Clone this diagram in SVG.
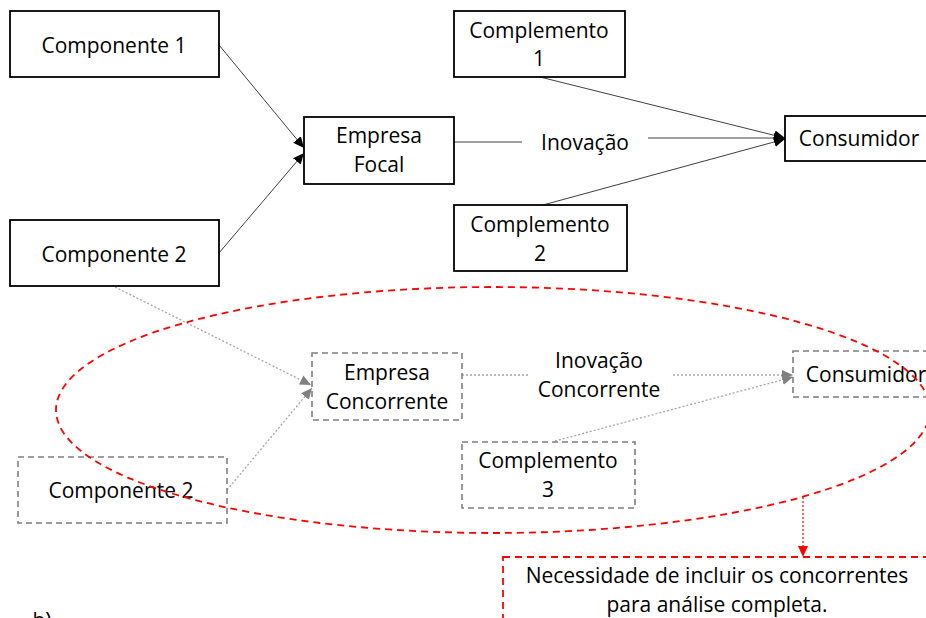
<svg xmlns="http://www.w3.org/2000/svg" width="926" height="618" viewBox="0 0 926 618">
<style>
text{font-family:"Open Sans","Noto Sans","Liberation Sans",sans-serif;font-size:21px;fill:#000;text-anchor:middle}
.box{fill:#fff;stroke:#000;stroke-width:1.8}
.dbox{fill:none;stroke:#7f7f7f;stroke-width:1.6;stroke-dasharray:6 4}
.c{stroke:#404040;stroke-width:1;fill:none}
.g{stroke:#a6a6a6;stroke-width:1.3;stroke-dasharray:2 2;fill:none}
.red{fill:none;stroke:#ff0000;stroke-width:1.8;stroke-dasharray:7 5}
.rdot{fill:none;stroke:#ff0000;stroke-width:1.2;stroke-dasharray:2 2}
</style>
<defs>
<marker id="ab" markerUnits="userSpaceOnUse" markerWidth="12" markerHeight="12" viewBox="0 0 12 12" refX="11" refY="6" orient="auto"><path d="M0,1 L11,6 L0,11 Z" fill="#000"/></marker>
<marker id="ag" markerUnits="userSpaceOnUse" markerWidth="12" markerHeight="12" viewBox="0 0 12 12" refX="11" refY="6" orient="auto"><path d="M0,1 L11,6 L0,11 Z" fill="#808080"/></marker>
<marker id="ar" markerUnits="userSpaceOnUse" markerWidth="12" markerHeight="12" viewBox="0 0 12 12" refX="11" refY="6" orient="auto"><path d="M0,1 L11,6 L0,11 Z" fill="#ff0000"/></marker>
</defs>
<rect width="926" height="618" fill="#fff"/>
<g id="connectors">
<line class="c" x1="219" y1="45" x2="304" y2="148" marker-end="url(#ab)"/>
<line class="c" x1="219" y1="253" x2="304" y2="153" marker-end="url(#ab)"/>
<line class="c" x1="454" y1="142" x2="522" y2="142"/>
<line class="c" x1="648" y1="138" x2="785" y2="138" marker-end="url(#ab)"/>
<line class="c" x1="540" y1="77" x2="785" y2="138" marker-end="url(#ab)"/>
<line class="c" x1="543" y1="205" x2="785" y2="139" marker-end="url(#ab)"/>
<line class="g" x1="115" y1="287" x2="311" y2="385" marker-end="url(#ag)"/>
<line class="g" x1="227" y1="490" x2="312" y2="388" marker-end="url(#ag)"/>
<line class="g" x1="462" y1="375" x2="529" y2="375"/>
<line class="g" x1="673" y1="375" x2="793" y2="375" marker-end="url(#ag)"/>
<line class="g" x1="555" y1="441" x2="793" y2="377" marker-end="url(#ag)"/>
<line class="rdot" x1="803" y1="497" x2="803" y2="557" marker-end="url(#ar)"/>
</g>
<g id="componente1"><rect class="box" x="10" y="11" width="209" height="66"/><text x="114" y="53">Componente  1</text></g>
<g id="componente2"><rect class="box" x="10" y="220" width="209" height="66"/><text x="114" y="262">Componente  2</text></g>
<g id="empresa-focal"><rect class="box" x="304" y="117" width="150" height="67"/><text x="379" y="143">Empresa</text><text x="379" y="172">Focal</text></g>
<g id="complemento1"><rect class="box" x="454" y="11" width="171" height="66"/><text x="539" y="38">Complemento</text><text x="539" y="66">1</text></g>
<g id="complemento2"><rect class="box" x="454" y="205" width="173" height="66"/><text x="540" y="232">Complemento</text><text x="540" y="261">2</text></g>
<g id="inovacao"><text x="585" y="150">Inovação</text></g>
<g id="consumidor"><rect class="box" x="785" y="116" width="160" height="45"/><text x="859" y="146">Consumidor</text></g>
<g id="empresa-concorrente"><rect class="dbox" x="312" y="353" width="150" height="67"/><text x="387" y="380">Empresa</text><text x="387" y="409">Concorrente</text></g>
<g id="componente2b"><rect class="dbox" x="18" y="457" width="209" height="66"/><text x="121" y="498">Componente  2</text></g>
<g id="inovacao-concorrente"><text x="599" y="368">Inovação</text><text x="599" y="397">Concorrente</text></g>
<g id="consumidor2"><rect class="dbox" x="793" y="351" width="160" height="46"/><text x="866" y="382">Consumidor</text></g>
<g id="complemento3"><rect class="dbox" x="462" y="442" width="173" height="66"/><text x="548" y="468">Complemento</text><text x="548" y="497">3</text></g>
<g id="ellipse"><ellipse class="red" cx="493" cy="410" rx="437" ry="123"/></g>
<g id="nota"><rect class="red" x="503" y="557" width="450" height="80"/><text x="717" y="583">Necessidade  de incluir os concorrentes</text><text x="717" y="612">para  análise completa.</text></g>
<g id="label-b"><text x="42" y="628">b)</text></g>
</svg>
